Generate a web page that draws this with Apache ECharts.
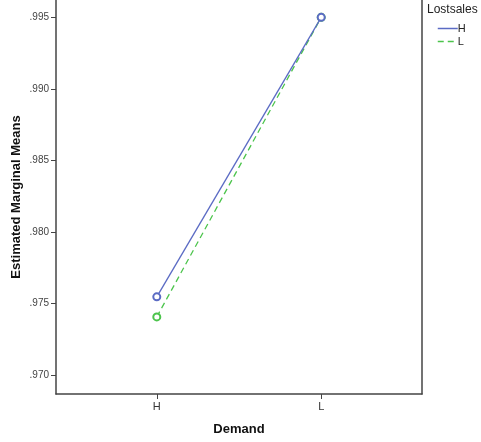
<!DOCTYPE html>
<html><head><meta charset="utf-8">
<script src="https://cdn.jsdelivr.net/npm/echarts@6/dist/echarts.min.js"></script>
<style>html,body{margin:0;padding:0;background:#fff}#c{width:481px;height:442px}</style>
</head><body><div id="c"></div>
<script>
const categories = ['H', 'L'];
const seriesNames = ['H', 'L'];
const valuesH = [0.97546, 0.99500];
const valuesL = [0.97406, 0.99500];
const yTicks = [0.970, 0.975, 0.980, 0.985, 0.990, 0.995];

const FONT = 'Liberation Sans, Arial, sans-serif';
const chart = echarts.init(document.getElementById('c'), null, {renderer: 'canvas'});
function pts(vals) { return vals.map((v, i) => [i, v]); }
const yMin = 0.96867, yMax = 0.99621;
chart.setOption({
  animation: false,
  backgroundColor: '#ffffff',
  title: {
    text: 'Lostsales', left: 427, top: 4, padding: 0,
    textStyle: {fontFamily: FONT, fontSize: 12, fontWeight: 'normal', color: '#222'}
  },
  legend: {
    orient: 'vertical', left: 437, top: 23, padding: 0,
    itemWidth: 20, itemHeight: 6, itemGap: 2,
    itemStyle: {opacity: 0},
    lineStyle: {width: 1.5},
    textStyle: {fontFamily: FONT, fontSize: 11, color: '#222', padding: [0, 0, 0, -5]},
    data: seriesNames
  },
  grid: {left: 56, right: 59, top: 0, bottom: 48, outerBoundsMode: 'none', containLabel: false},
  xAxis: {
    type: 'value', min: -0.613, max: 1.613,
    name: 'Demand', nameLocation: 'middle', nameGap: 29,
    nameTextStyle: {fontFamily: FONT, fontSize: 13, fontWeight: 'bold', color: '#111'},
    axisLine: {show: true, onZero: false, lineStyle: {color: '#444', width: 1.5}},
    axisTick: {show: true, length: 5, lineStyle: {color: '#444'}, customValues: [0, 1]},
    axisLabel: {customValues: [0, 1], formatter: v => categories[Math.round(v)], fontFamily: FONT, fontSize: 11, color: '#333', margin: 7},
    splitLine: {show: false}
  },
  yAxis: [{
    type: 'value', min: yMin, max: yMax,
    name: 'Estimated Marginal Means', nameLocation: 'middle', nameGap: 33, nameMoveOverlap: false,
    nameTextStyle: {fontFamily: FONT, fontSize: 13, fontWeight: 'bold', color: '#111'},
    axisLine: {show: true, onZero: false, lineStyle: {color: '#444', width: 1.5}},
    axisTick: {show: true, length: 5, lineStyle: {color: '#444'}, customValues: yTicks},
    axisLabel: {customValues: yTicks, formatter: v => v.toFixed(3).replace(/^0/, ''), fontFamily: FONT, fontSize: 10, color: '#444', margin: 7},
    splitLine: {show: false}
  }, {
    type: 'value', min: yMin, max: yMax, position: 'right',
    axisLine: {show: true, onZero: false, lineStyle: {color: '#444', width: 1.5}},
    axisTick: {show: false}, axisLabel: {show: false}, splitLine: {show: false}
  }],
  series: [
    {name: seriesNames[0], type: 'line', data: pts(valuesH), symbol: 'emptyCircle', symbolSize: 7,
     lineStyle: {color: '#5b6bc4', width: 1.3}, itemStyle: {color: '#5b6bc4', borderWidth: 1}, z: 3},
    {name: seriesNames[1], type: 'line', data: pts(valuesL), symbol: 'emptyCircle', symbolSize: 7,
     lineStyle: {color: '#4cc44c', width: 1.3, type: [6, 4]}, itemStyle: {color: '#4cc44c', borderWidth: 1}, z: 2}
  ]
});
</script></body></html>
